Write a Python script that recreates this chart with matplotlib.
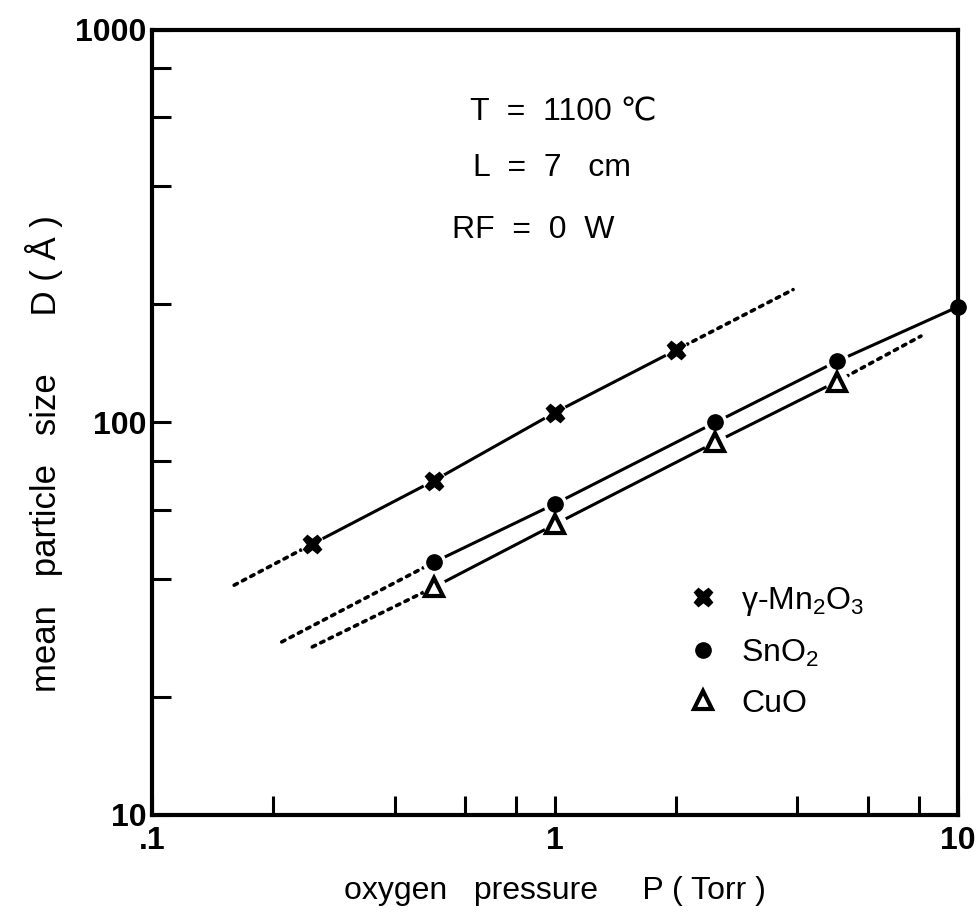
import matplotlib
matplotlib.use("Agg")
import matplotlib.pyplot as plt
from matplotlib.ticker import FixedLocator, FixedFormatter, NullFormatter

# particle size vs oxygen pressure
mn_p = [0.25, 0.5, 1, 2]
mn_d = [49, 71, 106, 153]
sn_p = [0.5, 1, 2.5, 5, 10]
sn_d = [44, 62, 100, 143, 197]
cu_p = [0.5, 1, 2.5, 5]
cu_d = [38, 55, 89, 127]

# dotted extrapolations at the ends of the fitted lines
mn_lo_p, mn_lo_d = [0.16, 0.25], [38.5, 49]
mn_hi_p, mn_hi_d = [2, 3.9], [153, 218]
sn_lo_p, sn_lo_d = [0.21, 0.5], [27.6, 44]
cu_lo_p, cu_lo_d = [0.25, 0.5], [26.8, 38]
cu_hi_p, cu_hi_d = [5, 8.1], [127, 166]

x_major = [0.1, 1, 10]
x_major_lab = [".1", "1", "10"]
x_minor = [0.2, 0.4, 0.6, 0.8, 2, 4, 6, 8]
y_major = [10, 100, 1000]
y_major_lab = ["10", "100", "1000"]
y_minor = [20, 40, 60, 80, 200, 400, 600, 800]

plt.rcParams["font.family"] = ["Liberation Sans", "DejaVu Sans"]
plt.rcParams["mathtext.fontset"] = "custom"
plt.rcParams["mathtext.rm"] = "Liberation Sans"

fig = plt.figure(figsize=(9.8, 9.19), dpi=100)
ax = fig.add_axes([0.155, 0.1132, 0.8224, 0.8542])
ax.set_xscale("log")
ax.set_yscale("log")
ax.set_xlim(0.1, 10)
ax.set_ylim(10, 1000)

solid = dict(color="black", lw=2.2, zorder=2)
dots = dict(color="black", lw=2.6, ls=(0, (1, 1.6)), dash_capstyle="round", zorder=2)

ax.plot(mn_p, mn_d, **solid)
ax.plot(sn_p, sn_d, clip_on=False, **solid)
ax.plot(cu_p, cu_d, **solid)
for px, dy in [(mn_lo_p, mn_lo_d), (mn_hi_p, mn_hi_d), (sn_lo_p, sn_lo_d),
               (cu_lo_p, cu_lo_d), (cu_hi_p, cu_hi_d)]:
    ax.plot(px, dy, **dots)

# white halos so the lines break around the symbols
for px, dy in [(mn_p, mn_d), (sn_p[:-1], sn_d[:-1]), (cu_p, cu_d)]:
    ax.plot(px, dy, "o", ms=17, color="white", mec="none", zorder=3)

h1, = ax.plot(mn_p, mn_d, "X", ms=13, color="black", mec="black", zorder=4, ls="none")
h2, = ax.plot(sn_p, sn_d, "o", ms=11, color="black", zorder=4, ls="none", clip_on=False)
h3, = ax.plot(cu_p, cu_d, "^", ms=13, mfc="white", mec="black", mew=3, zorder=4, ls="none")

ax.legend([h1, h2, h3], ["γ-Mn$_2$O$_3$", "SnO$_2$", "CuO"],
          loc="upper left", bbox_to_anchor=(0.628, 0.33), frameon=False,
          fontsize=23, handletextpad=0.7, labelspacing=0.62, handlelength=1.0)

ax.text(0.395, 0.8955, "T  =  1100 ℃", transform=ax.transAxes, fontsize=23,
        va="center", family=["Liberation Sans", "DejaVu Sans"])
ax.text(0.398, 0.824, "L  =  7   cm", transform=ax.transAxes, fontsize=23, va="center")
ax.text(0.372, 0.745, "RF  =  0  W", transform=ax.transAxes, fontsize=23, va="center")

for s in ax.spines.values():
    s.set_linewidth(3)

ax.xaxis.set_major_locator(FixedLocator(x_major))
ax.xaxis.set_major_formatter(FixedFormatter(x_major_lab))
ax.xaxis.set_minor_locator(FixedLocator(x_minor))
ax.xaxis.set_minor_formatter(NullFormatter())
ax.yaxis.set_major_locator(FixedLocator(y_major))
ax.yaxis.set_major_formatter(FixedFormatter(y_major_lab))
ax.yaxis.set_minor_locator(FixedLocator(y_minor))
ax.yaxis.set_minor_formatter(NullFormatter())

ax.tick_params(which="both", direction="in", length=14, width=2.2,
               top=False, right=False)
ax.tick_params(axis="x", which="major", pad=8)
ax.tick_params(axis="y", which="major", pad=4)
for lab in ax.get_xticklabels() + ax.get_yticklabels():
    lab.set_fontweight("bold")
    lab.set_fontsize(23)

ax.set_xlabel("oxygen   pressure     P ( Torr )", fontsize=23, labelpad=14)
ax.set_ylabel("mean   particle   size      D ( Å )", fontsize=25)
ax.yaxis.set_label_coords(-0.11, 0.46)

fig.savefig("out.png", dpi=100)
